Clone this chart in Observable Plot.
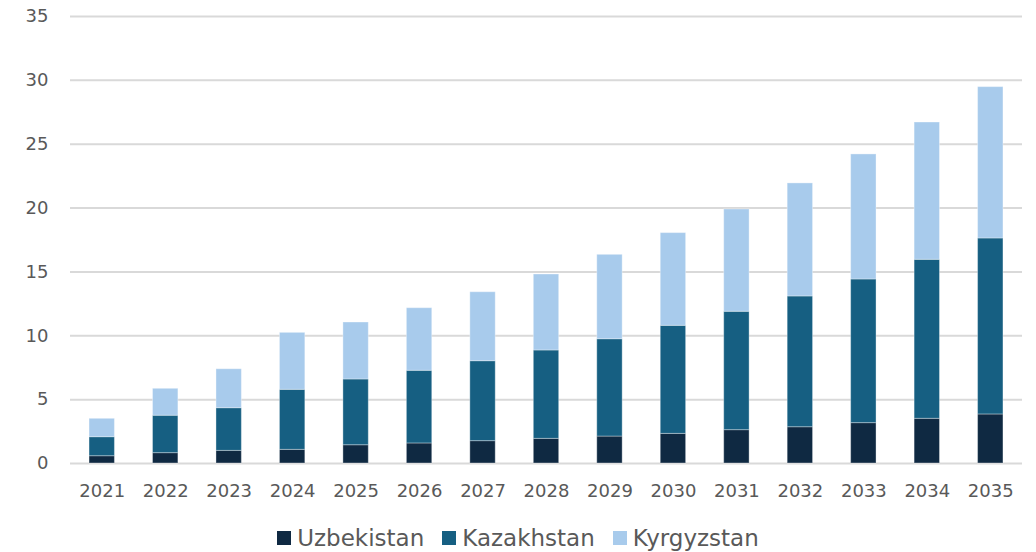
<!DOCTYPE html>
<html><head><meta charset="utf-8">
<script src="https://cdn.jsdelivr.net/npm/d3@7"></script>
<script src="https://cdn.jsdelivr.net/npm/@observablehq/plot@0.6"></script>
<style>
body{margin:0;background:#fff;font-family:"DejaVu Sans",sans-serif;}
#legend{display:flex;justify-content:center;gap:18px;font-size:23px;color:#595959;height:40px;align-items:center;padding-top:6px;}
#legend span.sw{display:inline-block;width:14px;height:14px;margin-right:6px;}
#legend div{display:flex;align-items:center;}
</style></head><body>
<div id="chart"></div>
<div id="legend"></div>
<script>
const years = ["2021","2022","2023","2024","2025","2026","2027","2028","2029","2030","2031","2032","2033","2034","2035"];
const uzbekistan = [0.57,0.81,0.99,1.07,1.43,1.57,1.75,1.93,2.11,2.32,2.61,2.84,3.16,3.50,3.84];
const kazakhstan = [1.49,2.93,3.34,4.70,5.15,5.69,6.26,6.92,7.62,8.46,9.27,10.24,11.25,12.45,13.78];
const kyrgyzstan = [1.44,2.11,3.05,4.46,4.46,4.90,5.40,5.95,6.61,7.26,8.01,8.85,9.79,10.75,11.85];
const seriesNames = ["Uzbekistan","Kazakhstan","Kyrgyzstan"];
const seriesColors = ["#0f2942","#165f82","#a8cbec"];
const yTicks = [0,5,10,15,20,25,30,35];

const seriesValues = [uzbekistan, kazakhstan, kyrgyzstan];
const data = [];
seriesNames.forEach((s,i)=>years.forEach((y,j)=>data.push({year:y, series:s, value:seriesValues[i][j]})));

const chart = Plot.plot({
  width:1036, height:512,
  marginLeft:70, marginRight:14, marginTop:16, marginBottom:49,
  style:{fontFamily:"DejaVu Sans, sans-serif", fontSize:"18px", color:"#595959"},
  x:{domain:years, paddingInner:0.6, paddingOuter:0.3, round:false, label:null, tickSize:0, tickPadding:21},
  y:{domain:[0,35], ticks:yTicks, label:null, tickSize:0, tickPadding:22},
  color:{domain:seriesNames, range:seriesColors},
  marks:[
    Plot.ruleY(yTicks, {stroke:"#d9d9d9", strokeWidth:2}),
    Plot.barY(data, {x:"year", y:"value", fill:"series", order:seriesNames, stroke:"#ffffff", strokeOpacity:0.35, strokeWidth:1}),
  ]
});
document.getElementById("chart").appendChild(chart);
const leg = document.getElementById("legend");
seriesNames.forEach((s,i)=>{
  const d=document.createElement("div");
  d.innerHTML=`<span class="sw" style="background:${seriesColors[i]}"></span>${s}`;
  leg.appendChild(d);
});
</script></body></html>
